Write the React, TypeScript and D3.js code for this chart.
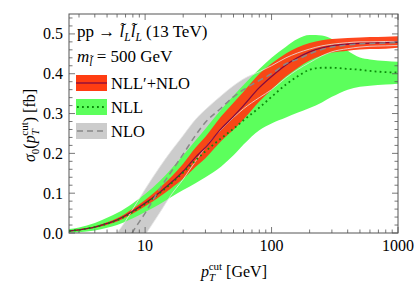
import * as d3 from "d3";

// p_T^cut grid (GeV) for the resummed curves
const ptCut = [2.5, 3, 4, 5, 6, 8, 10, 13, 16, 20, 25, 30, 40, 50, 60, 80, 100, 130, 160, 200, 250, 300, 400, 500, 600, 800, 1000];

// NLL'+NLO (red)
const nnlCentral = [0.005, 0.008, 0.015, 0.024, 0.033, 0.055, 0.075, 0.102, 0.126, 0.155, 0.19, 0.215, 0.262, 0.293, 0.32, 0.365, 0.393, 0.422, 0.44, 0.455, 0.465, 0.47, 0.474, 0.476, 0.477, 0.478, 0.479];
const nnlLo = [0.004, 0.0065, 0.013, 0.021, 0.029, 0.049, 0.067, 0.091, 0.112, 0.136, 0.166, 0.188, 0.231, 0.259, 0.285, 0.33, 0.36, 0.393, 0.414, 0.433, 0.446, 0.453, 0.458, 0.461, 0.462, 0.463, 0.465];
const nnlHi = [0.006, 0.0095, 0.017, 0.027, 0.037, 0.061, 0.083, 0.113, 0.14, 0.174, 0.214, 0.242, 0.293, 0.327, 0.355, 0.4, 0.426, 0.451, 0.466, 0.477, 0.484, 0.487, 0.49, 0.491, 0.492, 0.493, 0.494];

// NLL (green)
const nllCentral = [0.005, 0.008, 0.015, 0.023, 0.032, 0.053, 0.073, 0.1, 0.124, 0.152, 0.182, 0.205, 0.238, 0.262, 0.283, 0.315, 0.342, 0.373, 0.393, 0.41, 0.415, 0.415, 0.412, 0.41, 0.407, 0.404, 0.403];
const nllLo = [0.001, 0.002, 0.006, 0.013, 0.02, 0.037, 0.053, 0.072, 0.09, 0.108, 0.125, 0.14, 0.167, 0.195, 0.222, 0.258, 0.275, 0.29, 0.302, 0.314, 0.328, 0.342, 0.36, 0.367, 0.37, 0.373, 0.375];
const nllHi = [0.01, 0.014, 0.025, 0.038, 0.05, 0.075, 0.098, 0.13, 0.16, 0.195, 0.232, 0.262, 0.31, 0.345, 0.372, 0.412, 0.44, 0.468, 0.487, 0.497, 0.496, 0.487, 0.458, 0.441, 0.436, 0.432, 0.43];

// NLO (gray), goes negative below ~8 GeV
const nloX = [5, 6, 7, 8, 10, 13, 16, 20, 25, 30, 40, 50, 60, 80, 100, 130, 160, 200, 250, 300, 400, 500, 600, 800, 1000];
const nloCentral = [-0.11, -0.065, -0.03, 0.003, 0.05, 0.11, 0.153, 0.198, 0.245, 0.278, 0.314, 0.342, 0.36, 0.383, 0.4, 0.425, 0.436, 0.45, 0.461, 0.467, 0.472, 0.475, 0.476, 0.477, 0.478];
const nloLo = [-0.2, -0.15, -0.1, -0.05, -0.005, 0.05, 0.095, 0.135, 0.18, 0.215, 0.26, 0.29, 0.312, 0.34, 0.36, 0.39, 0.41, 0.428, 0.445, 0.455, 0.463, 0.467, 0.469, 0.47, 0.471];
const nloHi = [-0.03, 0, 0.03, 0.06, 0.11, 0.165, 0.205, 0.245, 0.285, 0.31, 0.345, 0.37, 0.387, 0.405, 0.42, 0.44, 0.452, 0.462, 0.47, 0.474, 0.478, 0.48, 0.48, 0.481, 0.481];

const xTicks = [10, 100, 1000];
const yTicks = [0, 0.1, 0.2, 0.3, 0.4, 0.5];

const RED = "#ff3d12";
const GREEN = "#5cff5c";
const GRAY = "#cccccc";
const FONT = "'Liberation Serif', 'Times New Roman', serif";

const W = 415;
const H = 287;
const m = { left: 69, right: 17, top: 14, bottom: 54 };

export default function App() {
  const x = d3.scaleLog().domain([2.5, 1000]).range([m.left, W - m.right]);
  const y = d3.scaleLinear().domain([0, 0.55]).range([H - m.bottom, m.top]);

  const band = (xs: number[], lo: number[], hi: number[]) =>
    d3
      .area<number>()
      .x((_, i) => x(xs[i]))
      .y0((_, i) => y(lo[i]))
      .y1((_, i) => y(hi[i]))
      .curve(d3.curveMonotoneX)(xs) ?? "";

  const line = (xs: number[], ys: number[]) =>
    d3
      .line<number>()
      .x((_, i) => x(xs[i]))
      .y((_, i) => y(ys[i]))
      .curve(d3.curveMonotoneX)(xs) ?? "";

  const x0 = m.left;
  const x1 = W - m.right;
  const y0 = H - m.bottom;
  const y1 = m.top;

  const minorX: number[] = [];
  [1, 10, 100].forEach((d) => {
    for (let k = 2; k <= 9; k++) {
      const v = d * k;
      if (v >= 2.5 && v <= 1000 && !xTicks.includes(v)) minorX.push(v);
    }
  });
  const minorY = d3.range(0, 0.551, 0.02).filter((v) => Math.abs(v * 10 - Math.round(v * 10)) > 1e-6);

  const tickColor = "#555";

  return (
    <svg width={W} height={H} style={{ position: "absolute", left: 0, top: 0 }} fontFamily={FONT}>
      <defs>
        <clipPath id="plot">
          <rect x={x0} y={y1} width={x1 - x0} height={y0 - y1} />
        </clipPath>
      </defs>
      <g clipPath="url(#plot)">
        <path d={band(nloX, nloLo, nloHi)} fill={GRAY} />
        <path d={band(ptCut, nllLo, nllHi)} fill={GREEN} />
        <path d={band(ptCut, nnlLo, nnlHi)} fill={RED} opacity={0.95} />
        <path d={line(nloX, nloHi)} fill="none" stroke="#e6e6e6" strokeWidth={1} opacity={0.8} />
        <path d={line(nloX, nloLo)} fill="none" stroke="#e6e6e6" strokeWidth={1} opacity={0.8} />
        <path d={line(ptCut, nnlCentral)} fill="none" stroke="#850a40" strokeWidth={1.3} />
        <path d={line(ptCut, nllCentral)} fill="none" stroke="#0a8a0a" strokeWidth={1.8} strokeDasharray="1.8,3.2" />
        <path d={line(nloX, nloCentral)} fill="none" stroke="#888" strokeWidth={1.5} strokeDasharray="6,4" />
      </g>

      {/* frame */}
      <rect x={x0} y={y1} width={x1 - x0} height={y0 - y1} fill="none" stroke={tickColor} strokeWidth={1} />

      {/* ticks */}
      <g stroke={tickColor} strokeWidth={0.8}>
        {xTicks.map((v) => (
          <g key={"xt" + v}>
            <line x1={x(v)} x2={x(v)} y1={y0} y2={y0 - 6} />
            <line x1={x(v)} x2={x(v)} y1={y1} y2={y1 + 6} />
          </g>
        ))}
        {minorX.map((v) => (
          <g key={"xm" + v}>
            <line x1={x(v)} x2={x(v)} y1={y0} y2={y0 - 3.5} />
            <line x1={x(v)} x2={x(v)} y1={y1} y2={y1 + 3.5} />
          </g>
        ))}
        {yTicks.map((v) => (
          <g key={"yt" + v}>
            <line x1={x0} x2={x0 + 6} y1={y(v)} y2={y(v)} />
            <line x1={x1} x2={x1 - 6} y1={y(v)} y2={y(v)} />
          </g>
        ))}
        {minorY.map((v) => (
          <g key={"ym" + v}>
            <line x1={x0} x2={x0 + 3.5} y1={y(v)} y2={y(v)} />
            <line x1={x1} x2={x1 - 3.5} y1={y(v)} y2={y(v)} />
          </g>
        ))}
      </g>

      {/* tick labels */}
      <g fontSize={16} fill="#000">
        {xTicks.map((v) => (
          <text key={"xl" + v} x={x(v)} y={y0 + 18} textAnchor="middle">
            {v}
          </text>
        ))}
        {yTicks.map((v) => (
          <text key={"yl" + v} x={x0 - 6} y={y(v) + 5.5} textAnchor="end">
            {v.toFixed(1)}
          </text>
        ))}
      </g>

      {/* axis titles */}
      <text x={234} y={277} textAnchor="middle" fontSize={16}>
        <tspan fontStyle="italic">p</tspan>
        <tspan fontStyle="italic" fontSize={11} dy={4}>T</tspan>
        <tspan fontSize={11} dx={-6.5} dy={-11}>cut</tspan>
        <tspan dy={7}> [GeV]</tspan>
      </text>
      <text transform={`translate(35,${(y0 + y1) / 2 + 2}) rotate(-90)`} textAnchor="middle" fontSize={16}>
        <tspan fontStyle="italic">σ</tspan>
        <tspan fontSize={11} dy={4}>0</tspan>
        <tspan dy={-4}>(</tspan>
        <tspan fontStyle="italic">p</tspan>
        <tspan fontStyle="italic" fontSize={11} dy={4}>T</tspan>
        <tspan fontSize={11} dx={-6.5} dy={-11}>cut</tspan>
        <tspan dy={7}>) [fb]</tspan>
      </text>

      {/* process label */}
      <text x={77} y={37} fontSize={17}>
        <tspan>pp → </tspan>
        <tspan fontStyle="italic">l̃</tspan>
        <tspan fontStyle="italic" fontSize={11.5} dy={4}>L</tspan>
        <tspan fontStyle="italic" dy={-4}>l̃</tspan>
        <tspan fontStyle="italic" fontSize={11.5} dy={4}>L</tspan>
        <tspan dy={-4}> (13 TeV)</tspan>
      </text>
      <text x={77} y={62} fontSize={17}>
        <tspan fontStyle="italic">m</tspan>
        <tspan fontStyle="italic" fontSize={11.5} dy={4}>l̃</tspan>
        <tspan dy={-4}> = 500 GeV</tspan>
      </text>

      {/* legend */}
      <g>
        <rect x={76} y={75} width={31} height={16} fill={RED} />
        <line x1={76} x2={107} y1={83} y2={83} stroke="#850a40" strokeWidth={1.3} />
        <text x={111} y={89} fontSize={16.5}>NLL′+NLO</text>

        <rect x={76} y={99} width={31} height={16} fill={GREEN} />
        <line x1={77} x2={107} y1={107} y2={107} stroke="#0a8a0a" strokeWidth={1.8} strokeDasharray="1.8,3.2" />
        <text x={111} y={113} fontSize={16.5}>NLL</text>

        <rect x={76} y={123} width={31} height={16} fill={GRAY} />
        <line x1={77} x2={107} y1={131} y2={131} stroke="#888" strokeWidth={1.5} strokeDasharray="6,4" />
        <text x={111} y={137} fontSize={16.5}>NLO</text>
      </g>
    </svg>
  );
}
